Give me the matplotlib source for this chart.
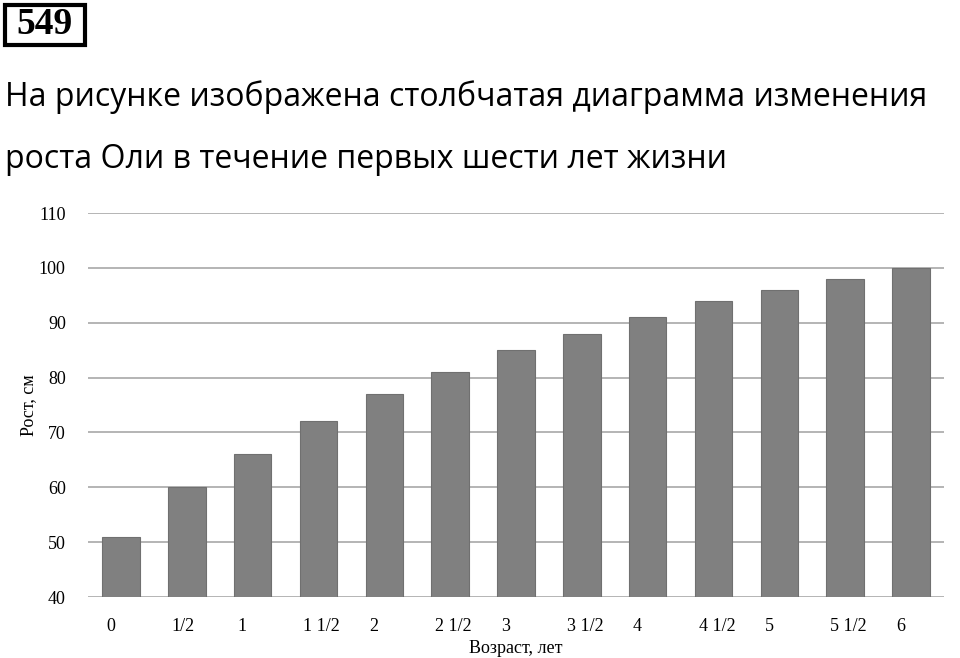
import matplotlib
matplotlib.use("Agg")
import matplotlib.pyplot as plt
import matplotlib.transforms as mtransforms
from matplotlib.patches import Rectangle

ages = ["0", "1/2", "1", "1 1/2", "2", "2 1/2", "3", "3 1/2", "4", "4 1/2", "5", "5 1/2", "6"]
heights = [51, 60, 66, 72, 77, 81, 85, 88, 91, 94, 96, 98, 100]
yticks = [40, 50, 60, 70, 80, 90, 100, 110]

W, H = 960, 658
fig = plt.figure(figsize=(W / 100, H / 100), dpi=100)

serif = "Liberation Serif"

# problem number box
fig.patches.append(Rectangle((5 / W, 1 - 45 / H), 80 / W, 40 / H, transform=fig.transFigure,
                             fill=False, ec="black", lw=3))
fig.text(45 / W, 1 - 25 / H, "549", fontsize=27, fontweight="bold", family=serif,
         ha="center", va="center")

fig.text(5 / W, 1 - 97 / H, "На рисунке изображена столбчатая диаграмма изменения",
         fontsize=23, family="Open Sans", ha="left", va="center")
fig.text(5 / W, 1 - 159 / H, "роста Оли в течение первых шести лет жизни",
         fontsize=23, family="Open Sans", ha="left", va="center")

ax = fig.add_axes([88 / W, 61 / H, (944 - 88) / W, (597 - 213) / H])
x = list(range(len(ages)))
ax.bar(x, heights, width=0.57, color="#808080", edgecolor="#707070", linewidth=0.8, zorder=3)
ax.set_ylim(40, 110)
ax.set_xlim(-0.5, len(ages) - 0.5)
ax.set_yticks(yticks)
ax.set_yticklabels([str(v) for v in yticks], family=serif, fontsize=13)
ax.yaxis.grid(True, color="#a8a8a8", linewidth=1.2, zorder=0)
ax.set_axisbelow(True)
for s in ax.spines.values():
    s.set_visible(False)
ax.tick_params(axis="y", length=0, pad=16)
ax.tick_params(axis="x", length=0, pad=15)
ax.set_xticks(x)
ax.set_xticklabels(ages, family=serif, fontsize=13, ha="left")
offset = mtransforms.ScaledTranslation(-15 / 100, 0, fig.dpi_scale_trans)
for lab in ax.get_xticklabels():
    lab.set_transform(lab.get_transform() + offset)

ax.set_xlabel("Возраст, лет", family=serif, fontsize=13, labelpad=4)
ax.set_ylabel("Рост, см", family=serif, fontsize=13, labelpad=1)

fig.savefig("out.png", dpi=100)
